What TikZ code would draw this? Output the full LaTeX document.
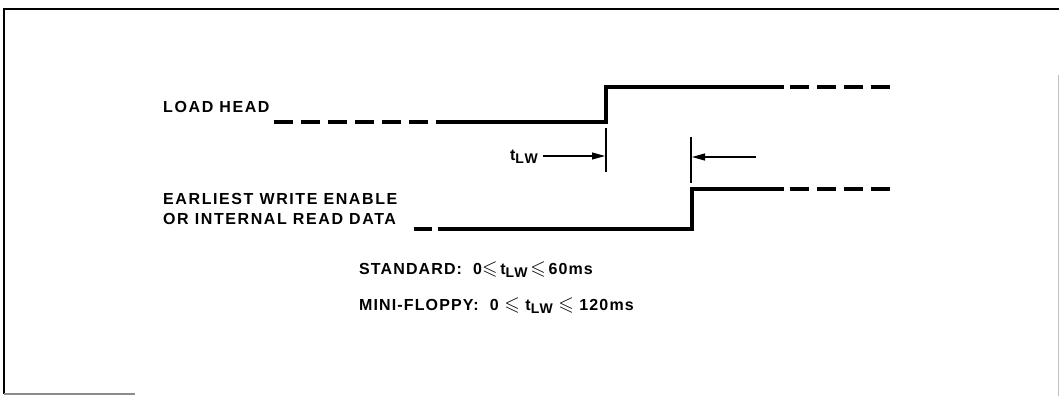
\documentclass[tikz,border=0pt]{standalone}
\usepackage{fontspec}
\usepackage{amssymb}
\usepackage{graphicx}
\setmainfont{Liberation Sans}[LetterSpace=10]
\usetikzlibrary{arrows.meta}
\newcommand{\tlw}{t\raisebox{-0.4ex}{\fontsize{14}{14}\selectfont LW}}
\newcommand{\lesl}{\raisebox{-0.1ex}{\scalebox{1.25}{$\leqslant$}}}
\begin{document}
\begin{tikzpicture}[x=1pt,y=-1pt,
  lbl/.style={inner sep=0pt,font=\fontsize{16}{19}\selectfont\bfseries,align=left},
  cond/.style={lbl,font=\fontsize{16}{19}\selectfont\bfseries\addfontfeature{LetterSpace=7}},
  sig/.style={line width=3.8pt},
  sigdash/.style={line width=3.8pt,dash pattern=on 19pt off 8pt},
  frame/.style={line width=2.4pt},
  tick/.style={line width=1.1pt},
  dimarrow/.style={line width=1.1pt,-{Triangle[length=13pt,width=7pt]}}]
\useasboundingbox (0,0) rectangle (1059,396);
% frame
\draw[frame] (1059,9) -- (4,9) -- (4,394);
\draw[line width=1.6pt,black!45] (4,394) -- (135,394);
\draw[line width=0.8pt,black!25] (1058,75) -- (1058,396);
% labels
\node[lbl,anchor=base west] (lh) at (163,112) {LOAD HEAD};
\node[lbl,anchor=base west] (ew) at (163,204) {EARLIEST WRITE ENABLE};
\node[lbl,anchor=base west] (ir) at (163,224) {OR INTERNAL READ DATA};
\node[cond,anchor=base west] (st) at (359,274) {STANDARD:\ \ 0\lesl\,\tlw\,\lesl\,60ms};
\node[cond,anchor=base west] (mf) at (359,310) {MINI-FLOPPY:\ \ 0 \lesl\ \tlw\ \lesl\ 120ms};
% signal 1
\coordinate (a0) at (274,122);
\coordinate (a1) at (438,122);
\coordinate (a2) at (606,122);
\coordinate (a3) at (606,87);
\coordinate (a4) at (784,87);
\coordinate (a5) at (892,87);
\draw[sigdash] (a0) -- (a1);
\draw[sig] (a1) -- (a2) -- (a3) -- (a4);
\draw[sigdash,dash phase=-6pt] (a4) -- (a5);
% signal 2
\coordinate (b0) at (414,229);
\coordinate (b1) at (438,229);
\coordinate (b2) at (692,229);
\coordinate (b3) at (692,189);
\coordinate (b4) at (784,189);
\coordinate (b5) at (892,189);
\draw[sig] (b0) -- (432,229);
\draw[sig] (b1) -- (b2) -- (b3) -- (b4);
\draw[sigdash,dash phase=-6pt] (b4) -- (b5);
% timing ticks
\coordinate (t1a) at (606,128);
\coordinate (t1b) at (606,172);
\coordinate (t2a) at (691,137);
\coordinate (t2b) at (691,183);
\draw[tick] (t1a) -- (t1b);
\draw[tick] (t2a) -- (t2b);
\coordinate (r0) at (543,156);
\coordinate (r1) at (605,156);
\coordinate (l0) at (756,157);
\coordinate (l1) at (692,157);
\draw[dimarrow] (r0) -- (r1);
\draw[dimarrow] (l0) -- (l1);
\node[lbl,anchor=base east] (tl) at (538,160) {\tlw};
\end{tikzpicture}
\end{document}
